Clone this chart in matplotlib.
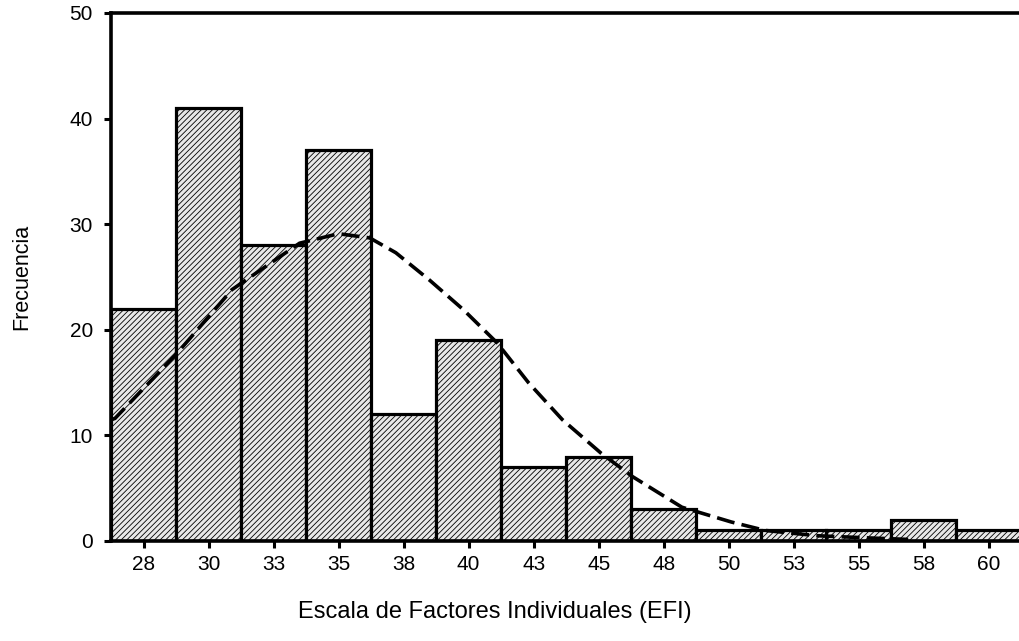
import numpy as np
import matplotlib as mpl
mpl.use('Agg')
from matplotlib import pyplot as plt

# histogram bins (centres) and counts
bin_centers = [27.5, 30.0, 32.5, 35.0, 37.5, 40.0, 42.5, 45.0, 47.5, 50.0, 52.5, 55.0, 57.5, 60.0]
bin_labels = ['28', '30', '33', '35', '38', '40', '43', '45', '48', '50', '53', '55', '58', '60']
counts = [22, 41, 28, 37, 12, 19, 7, 8, 3, 1, 1, 1, 2, 1]
bin_width = 2.5

# normal curve
curve_x = [26.25, 26.4, 28.8, 30.9, 33.5, 35.0, 36.2, 37.2, 38.5, 39.8, 41.1, 42.3,
           43.6, 45.1, 46.3, 48.2, 50.1, 51.4, 53.4, 55.3, 56.9]
curve_y = [11.5, 11.6, 17.8, 23.8, 28.2, 29.1, 28.7, 27.3, 24.7, 21.9, 18.75, 15.0,
           11.5, 8.3, 6.1, 3.2, 1.8, 1.0, 0.5, 0.3, 0.15]

plt.rcParams['font.family'] = ['Liberation Sans', 'DejaVu Sans']
plt.rcParams['hatch.color'] = '#505050'
plt.rcParams['hatch.linewidth'] = 0.6

fig = plt.figure(figsize=(10.2, 6.41), dpi=100)
ax = fig.add_axes([111 / 1020, 1 - 541 / 641, 1 - 111 / 1020, (541 - 13) / 641])

ax.bar(bin_centers, counts, width=bin_width, facecolor='#e8e8e8', edgecolor='black',
       linewidth=2.3, hatch='//////', zorder=2)

line, = ax.plot(curve_x, curve_y, color='black', linewidth=2.6, zorder=3)
line.set_dashes((5, 2))

ax.set_xlim(26.25, 61.2)
ax.set_ylim(0, 50)
ax.set_xticks(bin_centers)
ax.set_xticklabels(bin_labels)
ax.set_yticks([0, 10, 20, 30, 40, 50])

for s in ['left', 'top', 'bottom']:
    ax.spines[s].set_linewidth(2.6)
ax.spines['right'].set_visible(False)
ax.tick_params(axis='both', labelsize=15, width=2.2, length=5, direction='out')
ax.tick_params(axis='y', pad=8)
ax.tick_params(axis='x', pad=5)

fig.text(22 / 1020, 1 - 277 / 641, 'Frecuencia', rotation=90, fontsize=15.5,
         ha='center', va='center')
fig.text(495 / 1020, 1 - 612 / 641, 'Escala de Factores Individuales (EFI)', fontsize=17,
         ha='center', va='center')

fig.savefig('out.png', dpi=100)
